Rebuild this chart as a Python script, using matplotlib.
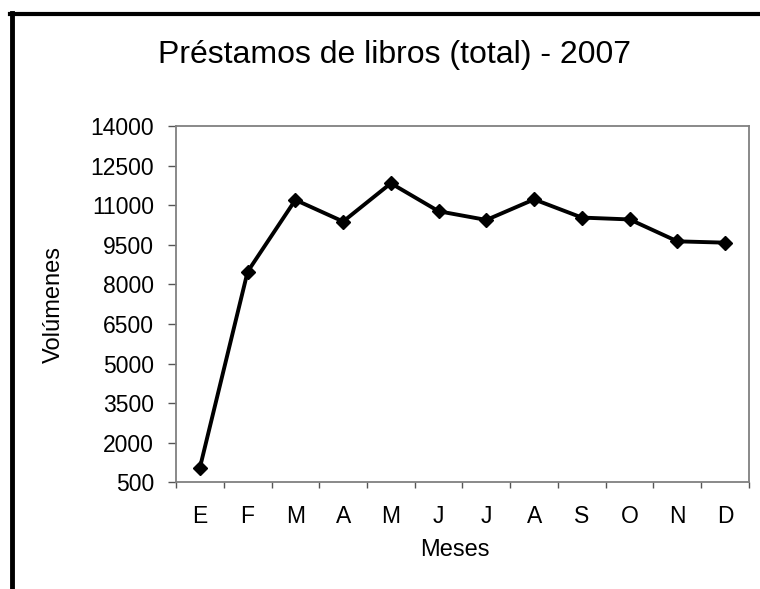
import matplotlib
matplotlib.use("Agg")
import matplotlib.pyplot as plt
from matplotlib.lines import Line2D

plt.rcParams['font.family'] = ['Liberation Sans', 'DejaVu Sans']

months = ["E", "F", "M", "A", "M", "J", "J", "A", "S", "O", "N", "D"]
volumes = [1050, 8480, 11200, 10380, 11830, 10770, 10440, 11220, 10530, 10460, 9630, 9580]
yticks = [500, 2000, 3500, 5000, 6500, 8000, 9500, 11000, 12500, 14000]

title = "Préstamos de libros (total) - 2007"
xlabel = "Meses"
ylabel = "Volúmenes"

fig = plt.figure(figsize=(7.6, 5.89), dpi=100)
ax = fig.add_axes([176/760, 1-482.3/589, (749-176)/760, (482.3-126)/589])

x = list(range(len(months)))
ax.plot(x, volumes, color='black', lw=2.8, marker='D', markersize=7.5,
        markerfacecolor='black', markeredgecolor='black', zorder=3)

ax.set_xlim(-0.5, len(months) - 0.5)
ax.set_ylim(500, 14000)
ax.set_yticks(yticks)
ax.set_yticklabels([str(v) for v in yticks], fontsize=16.5)

ax.set_xticks(x)
ax.set_xticklabels(months, fontsize=16.5)
ax.tick_params(axis='x', which='major', length=0, pad=16)
ax.set_xticks([i - 0.5 for i in range(len(months) + 1)], minor=True)
ax.tick_params(axis='x', which='minor', length=4.5, color='#555555', width=1, direction='out')
ax.tick_params(axis='y', length=5.8, color='#555555', width=1, direction='out', pad=10)

for s in ax.spines.values():
    s.set_color('#808080')
    s.set_linewidth(1.3)

ax.set_xlabel(xlabel, fontsize=17)
ax.xaxis.set_label_coords((455-176)/573, (482.3-550)/356.3)
ax.xaxis.label.set_va('center')
ax.set_ylabel(ylabel, fontsize=17)
ax.yaxis.set_label_coords((54-176)/573, 0.5)
ax.yaxis.label.set_va('center')

fig.text(395/760, 1-63/589, title, fontsize=23, ha='center', va='baseline')

# figure border (top and left only)
fig.add_artist(Line2D([12/760, 12/760], [0, 1-13/589], transform=fig.transFigure,
                      color='black', lw=3.5))
fig.add_artist(Line2D([10/760, 1], [1-14/589, 1-14/589], transform=fig.transFigure,
                      color='black', lw=3))

fig.savefig("out.png", dpi=100)
